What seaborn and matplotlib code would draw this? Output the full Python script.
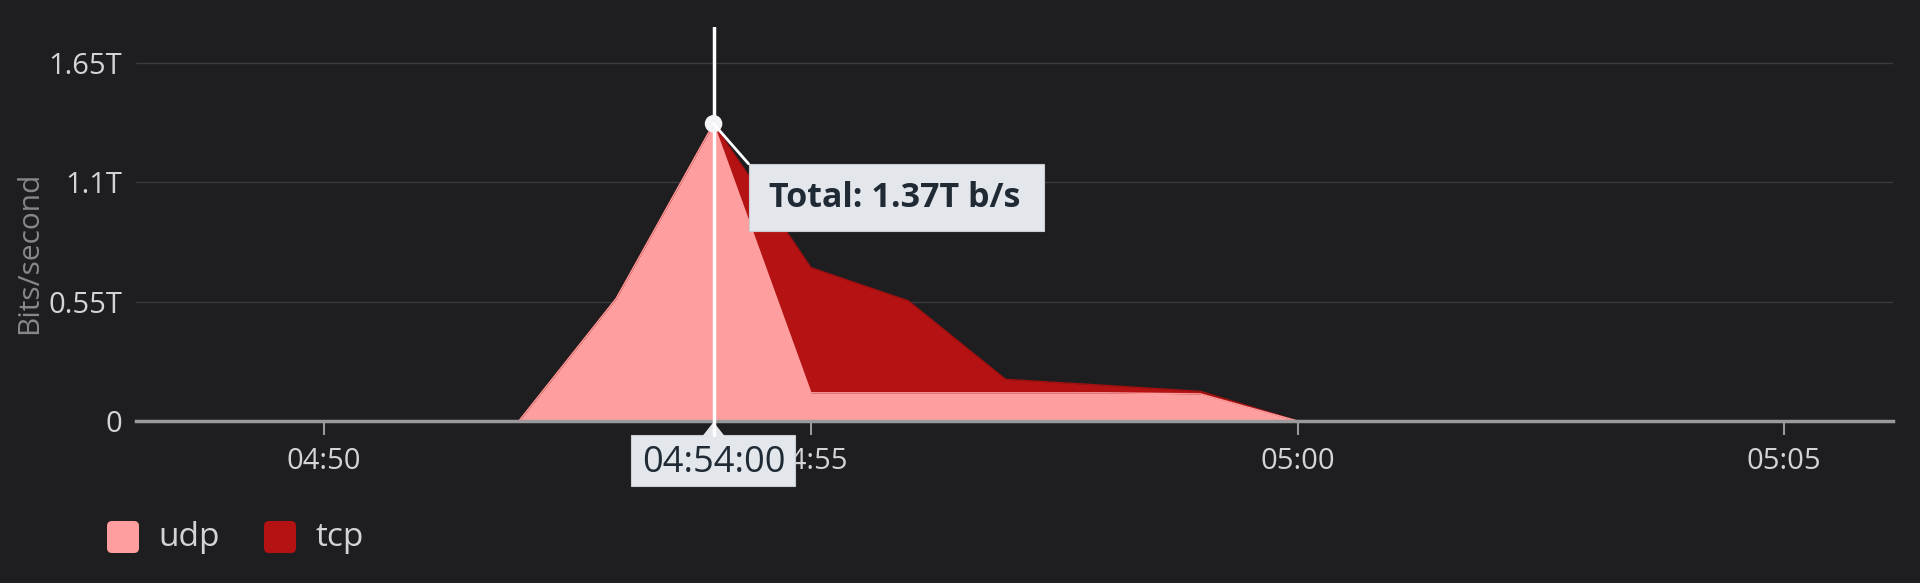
import matplotlib
matplotlib.use("Agg")
import matplotlib.pyplot as plt
import matplotlib.dates as mdates
from matplotlib.patches import Rectangle, Polygon, FancyBboxPatch
from matplotlib.lines import Line2D
from matplotlib.transforms import IdentityTransform
import seaborn as sns
import pandas as pd
import numpy as np

# ---- data (Tbit/s) ----
times = ["04:52", "04:53", "04:54", "04:55", "04:56", "04:57", "04:58", "04:59", "05:00"]
udp = [0.0, 0.565, 1.37, 0.13, 0.13, 0.13, 0.13, 0.125, 0.0]
tcp = [0.0, 0.0, 0.0, 0.577, 0.424, 0.062, 0.035, 0.012, 0.0]
ytick_vals = [0, 0.55, 1.1, 1.65]
ytick_labels = ["0", "0.55T", "1.1T", "1.65T"]
series_names = ["udp", "tcp"]
hover_time = "04:54"
hover_total_label = "Total: 1.37T b/s"
hover_time_label = "04:54:00"

BG = "#1e1e20"
UDP_C = "#ff9e9e"
TCP_C = "#b51313"
TXT = "#d4d4d6"
GRID = "#3b3b3e"
AXIS = "#9a9a9c"
TIP_BG = "#e3e6eb"
TIP_TXT = "#1f2a35"

sns.set_theme(style="dark", rc={"axes.facecolor": BG, "figure.facecolor": BG})
plt.rcParams['font.family'] = ['Open Sans', 'DejaVu Sans']

day = "2024-01-01 "
df = pd.DataFrame({
    "time": pd.to_datetime([day + t for t in times]),
    "udp": np.array(udp) * 1e12,
    "tcp": np.array(tcp) * 1e12,
})
df["total"] = df["udp"] + df["tcp"]

W, H = 1920, 583
fig = plt.figure(figsize=(W / 100, H / 100), dpi=100, facecolor=BG)
ax = fig.add_axes([136 / W, 1 - 421 / H, (1893 - 136) / W, (421 - 27) / H])
ax.set_facecolor(BG)

ax.fill_between(df["time"], 0, df["udp"], color=UDP_C, lw=0, zorder=2)
ax.fill_between(df["time"], df["udp"], df["total"], color=TCP_C, lw=0, zorder=2)
sns.lineplot(data=df, x="time", y="total", color="#a01010", lw=1, ax=ax, zorder=3)
sns.lineplot(data=df, x="time", y="udp", color=UDP_C, lw=1, ax=ax, zorder=3)

xmin = pd.Timestamp(day + "04:48:04")
xmax = pd.Timestamp(day + "05:06:07")
ax.set_xlim(xmin, xmax)
ax.set_ylim(0, 1.816e12)
ax.set_yticks([v * 1e12 for v in ytick_vals])
ax.set_yticklabels(ytick_labels)
ax.xaxis.set_major_locator(mdates.MinuteLocator(byminute=[0, 5, 50, 55]))
ax.xaxis.set_major_formatter(mdates.DateFormatter("%H:%M"))
ax.set_xlabel("")
ax.set_ylabel("")

for s in ["top", "right", "left"]:
    ax.spines[s].set_visible(False)
ax.spines["bottom"].set_color(AXIS)
ax.spines["bottom"].set_linewidth(2.5)
ax.spines["bottom"].set_zorder(4)
ax.grid(axis="y", color=GRID, lw=1)
ax.grid(axis="x", visible=False)
ax.set_axisbelow(True)
ax.tick_params(axis="x", length=10, width=1.5, color=AXIS, labelsize=21,
               labelcolor=TXT, pad=9, bottom=True)
ax.tick_params(axis="y", length=0, labelsize=21, labelcolor=TXT, pad=10)

fig.text(30 / W, 1 - 253 / H, "Bits/second", rotation=90, ha="center", va="center",
         fontsize=21.5, color="#88888a")

# ---- hover crosshair & tooltips ----
ht = pd.Timestamp(day + hover_time)
row = df[df["time"] == ht].iloc[0]
ax.axvline(ht, ymin=0, ymax=1, color="white", lw=2.5, zorder=5)
ax.scatter([ht], [row["total"]], s=160, color="#f4f4f8", zorder=6, edgecolor="none")

px, py = ax.transData.transform((mdates.date2num(ht), row["total"]))
_, y0 = ax.transData.transform((mdates.date2num(ht), 0))
idt = IdentityTransform()

fig.add_artist(Line2D([px, px + 35], [py, py - 40], color="white", lw=2, transform=idt))
fig.add_artist(Rectangle((px + 35, py - 107), 295, 67, facecolor=TIP_BG,
                         edgecolor="#c8ccd2", lw=0.8, transform=idt))
fig.text(px + 35 + 146, py - 74, hover_total_label, transform=idt, ha="center",
         va="center", fontsize=24.5, fontweight="bold", color=TIP_TXT)

fig.add_artist(Line2D([px, px], [y0, y0 - 14], color="white", lw=2.5, transform=idt))
fig.add_artist(Rectangle((px - 83, y0 - 65), 164, 51, facecolor=TIP_BG,
                         edgecolor="#c8ccd2", lw=0.8, transform=idt))
fig.add_artist(Polygon([(px, y0 - 1), (px - 11, y0 - 15), (px + 11, y0 - 15)],
                       closed=True, facecolor=TIP_BG, edgecolor="none", transform=idt))
fig.text(px, y0 - 42, hover_time_label, transform=idt, ha="center", va="center",
         fontsize=26, color=TIP_TXT)

# ---- legend ----
leg_colors = [UDP_C, TCP_C]
leg_x = [107, 264]
leg_tx = [158, 316]
for name, c, lx, tx in zip(series_names, leg_colors, leg_x, leg_tx):
    fig.add_artist(FancyBboxPatch((lx, H - 553), 32, 32,
                                  boxstyle="round,pad=0,rounding_size=5",
                                  facecolor=c, edgecolor="none", transform=idt))
    fig.text(tx, H - 538, name, transform=idt, ha="left", va="center",
             fontsize=24, color=TXT)

fig.savefig("out.png", dpi=100, facecolor=BG)
